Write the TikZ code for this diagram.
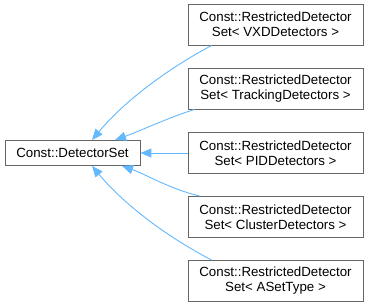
\documentclass[tikz,border=0pt]{standalone}
\usepackage{fontspec}
\setmainfont{Liberation Sans}
\usetikzlibrary{arrows.meta,calc}
\definecolor{edgeblue}{HTML}{63B8FF}
\definecolor{boxgray}{HTML}{666666}
\begin{document}
\begin{tikzpicture}[x=1pt,y=1pt,
  cls/.style={draw=boxgray, fill=white, line width=0.9pt, inner sep=0pt,
    font=\fontsize{13.3}{15}\selectfont, align=center},
  inh/.style={draw=edgeblue, line width=0.9pt, -{Triangle[length=11pt,width=9pt]}}]
\useasboundingbox (0,0) rectangle (368,307);
\node[cls, minimum width=135, minimum height=25] (base) at (72.5,154) {Const::DetectorSet};
\node[cls, minimum width=175, minimum height=41] (b1) at (275.5,282.5) {Const::RestrictedDetector\\Set< VXDDetectors >};
\node[cls, minimum width=175, minimum height=41] (b2) at (275.5,218.5) {Const::RestrictedDetector\\Set< TrackingDetectors >};
\node[cls, minimum width=175, minimum height=41] (b3) at (275.5,154) {Const::RestrictedDetector\\Set< PIDDetectors >};
\node[cls, minimum width=175, minimum height=41] (b4) at (275.5,90) {Const::RestrictedDetector\\Set< ClusterDetectors >};
\node[cls, minimum width=175, minimum height=41] (b5) at (275.5,26) {Const::RestrictedDetector\\Set< ASetType >};
\draw[inh] ($(b1.south west)+(24,0)$) .. controls (162,235) and (122,203) .. ($(base.north)+(19.5,0)$);
\draw[inh] ($(b2.south west)+(7,0)$) .. controls (170,190) and (140,176) .. ($(base.north)+(42.5,0)$);
\draw[inh] (b3.west) -- (base.east);
\draw[inh] ($(b4.north west)+(12,0)$) .. controls (170,118) and (145,133) .. ($(base.south)+(49.5,0)$);
\draw[inh] ($(b5.north west)+(24,0)$) .. controls (162,73) and (122,105) .. ($(base.south)+(19.5,0)$);
\end{tikzpicture}
\end{document}
